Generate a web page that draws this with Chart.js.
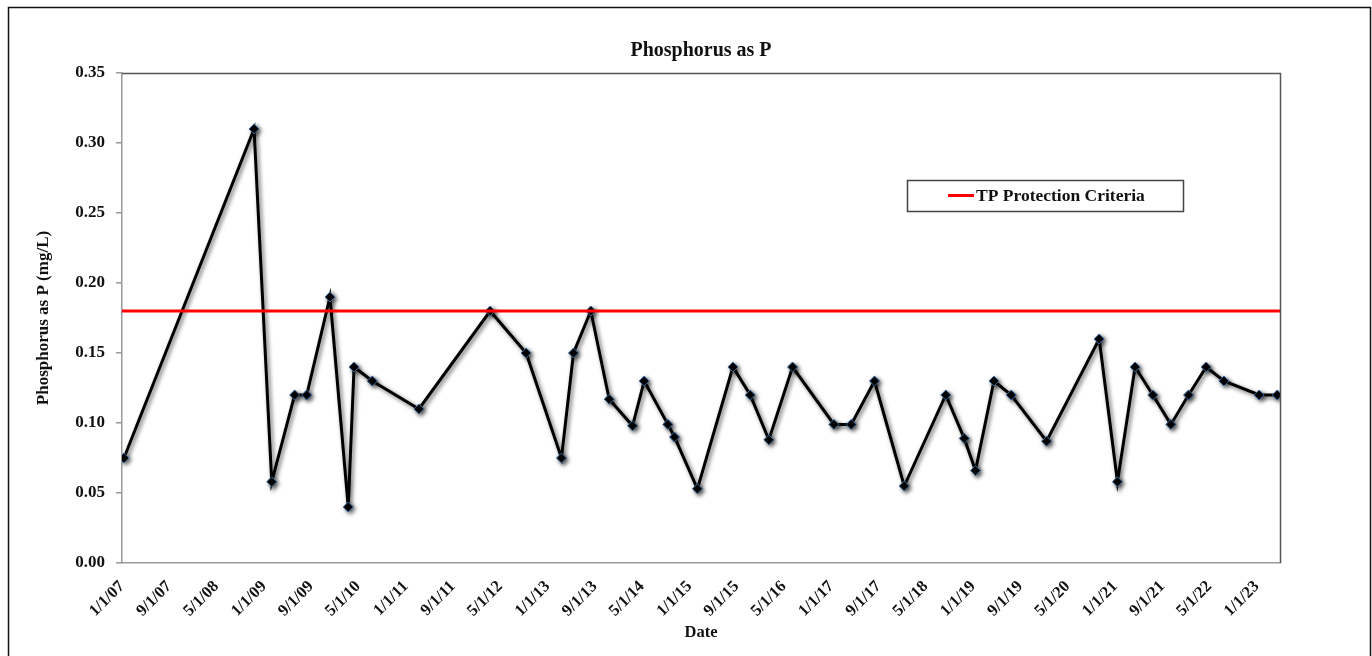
<!DOCTYPE html>
<html>
<head>
<meta charset="utf-8">
<script src="https://cdn.jsdelivr.net/npm/chart.js@4"></script>
<style>
html,body{margin:0;padding:0;background:#fff;}
canvas{display:block;}
</style>
</head>
<body>
<canvas id="c" width="1372" height="656"></canvas>
<script>
// ---- data ----
const sampleDates = ['2007-01-11','2008-11-11','2009-02-10','2009-06-08','2009-08-09','2009-12-07','2010-03-11','2010-04-10','2010-07-13','2011-03-10',
  '2012-03-11','2012-09-12','2013-03-13','2013-05-14','2013-08-11','2013-11-14','2014-03-14','2014-05-13','2014-09-12','2014-10-16',
  '2015-02-11','2015-08-13','2015-11-10','2016-02-14','2016-06-15','2017-01-14','2017-04-13','2017-08-11','2018-01-11','2018-08-13',
  '2018-11-16','2019-01-13','2019-04-18','2019-07-16','2020-01-14','2020-10-11','2021-01-13','2021-04-14','2021-07-14','2021-10-15',
  '2022-01-14','2022-04-15','2022-07-15','2023-01-13','2023-04-16'];
const phosphorus = [0.075,0.31,0.058,0.12,0.12,0.19,0.04,0.14,0.13,0.11,
  0.18,0.15,0.075,0.15,0.18,0.117,0.098,0.13,0.099,0.09,
  0.053,0.14,0.12,0.088,0.14,0.099,0.099,0.13,0.055,0.12,
  0.089,0.066,0.13,0.12,0.087,0.16,0.058,0.14,0.12,0.099,
  0.12,0.14,0.13,0.12,0.12];
const criteriaValue = 0.18;
const tickDates = ['2007-01-01','2007-09-01','2008-05-01','2009-01-01','2009-09-01','2010-05-01','2011-01-01','2011-09-01','2012-05-01',
  '2013-01-01','2013-09-01','2014-05-01','2015-01-01','2015-09-01','2016-05-01','2017-01-01','2017-09-01','2018-05-01','2019-01-01',
  '2019-09-01','2020-05-01','2021-01-01','2021-09-01','2022-05-01','2023-01-01'];
const tickLabels = ['1/1/07','9/1/07','5/1/08','1/1/09','9/1/09','5/1/10','1/1/11','9/1/11','5/1/12','1/1/13','9/1/13','5/1/14','1/1/15',
  '9/1/15','5/1/16','1/1/17','9/1/17','5/1/18','1/1/19','9/1/19','5/1/20','1/1/21','9/1/21','5/1/22','1/1/23'];
const axisStart = '2007-01-01';
const axisEnd = '2023-04-30';

const toDays = s => Date.parse(s + 'T00:00:00Z') / 86400000;
const xMin = toDays(axisStart), xMax = toDays(axisEnd);
const serif = "'Liberation Serif','Times New Roman',serif";

const framePlugin = {
  id: 'frame',
  beforeDraw(chart) {
    const ctx = chart.ctx;
    ctx.save();
    ctx.fillStyle = '#fff';
    ctx.fillRect(0, 0, chart.width, chart.height);
    ctx.strokeStyle = '#111';
    ctx.lineWidth = 1.5;
    ctx.beginPath();
    ctx.moveTo(8.5, 660); ctx.lineTo(8.5, 7.5); ctx.lineTo(1370.5, 7.5); ctx.lineTo(1370.5, 660);
    ctx.stroke();
    ctx.restore();
  },
  afterDraw(chart) {
    const ctx = chart.ctx, a = chart.chartArea;
    ctx.save();
    ctx.strokeStyle = '#555';
    ctx.lineWidth = 1.5;
    ctx.beginPath();
    ctx.moveTo(a.left, a.top + 0.5); ctx.lineTo(a.right + 0.5, a.top + 0.5); ctx.lineTo(a.right + 0.5, a.bottom);
    ctx.stroke();
    // legend
    const ds = chart.data.datasets[1];
    ctx.fillStyle = '#fff';
    ctx.fillRect(907.5, 180.5, 276, 31);
    ctx.strokeStyle = '#444';
    ctx.lineWidth = 1.5;
    ctx.strokeRect(907.5, 180.5, 276, 31);
    ctx.strokeStyle = ds.borderColor;
    ctx.lineWidth = 3;
    ctx.beginPath(); ctx.moveTo(948, 195.5); ctx.lineTo(974, 195.5); ctx.stroke();
    ctx.fillStyle = '#111';
    ctx.font = "bold 17.5px " + serif;
    ctx.textBaseline = 'middle';
    ctx.textAlign = 'left';
    ctx.fillText(ds.label, 976, 196);
    ctx.restore();
  }
};

const shadowPlugin = {
  id: 'shadow',
  beforeDatasetDraw(chart, args) {
    if (args.index !== 0) return;
    const ctx = chart.ctx;
    ctx.save();
    ctx.shadowColor = 'rgba(0,0,0,0.6)';
    ctx.shadowBlur = 4;
    ctx.shadowOffsetX = 2;
    ctx.shadowOffsetY = 2;
  },
  afterDatasetDraw(chart, args) {
    if (args.index !== 0) return;
    chart.ctx.restore();
  }
};

new Chart(document.getElementById('c'), {
  type: 'line',
  data: {
    datasets: [
      {
        label: 'Phosphorus as P',
        data: sampleDates.map((d, i) => ({x: toDays(d), y: phosphorus[i]})),
        borderColor: '#000',
        borderWidth: 3,
        tension: 0,
        pointStyle: 'rectRot',
        pointRadius: 5,
        pointBackgroundColor: '#000',
        pointBorderColor: '#3a6aa0',
        pointBorderWidth: 1,
        order: 1
      },
      {
        label: 'TP Protection Criteria',
        data: [{x: xMin, y: criteriaValue}, {x: xMax, y: criteriaValue}],
        borderColor: '#ff0000',
        borderWidth: 3,
        pointRadius: 0,
        order: 0
      }
    ]
  },
  options: {
    responsive: false,
    animation: false,
    events: [],
    layout: {padding: {left: 0, right: 92, top: 0, bottom: 0}},
    plugins: {
      legend: {display: false},
      tooltip: {enabled: false},
      title: {
        display: true,
        text: 'Phosphorus as P',
        fullSize: false,
        color: '#111',
        font: {family: serif, size: 20, weight: 'bold', lineHeight: 1.2},
        padding: {top: 39, bottom: 10}
      }
    },
    scales: {
      x: {
        type: 'linear',
        min: xMin,
        max: xMax,
        afterBuildTicks: s => { s.ticks = tickDates.map(d => ({value: toDays(d)})); },
        afterFit: s => { s.height = 93; },
        grid: {display: false},
        border: {display: true, color: '#999', width: 1.5},
        ticks: {
          autoSkip: false,
          minRotation: 45,
          maxRotation: 45,
          padding: 6,
          color: '#111',
          font: {family: serif, size: 16.5, weight: 'bold'},
          callback: (v, i) => tickLabels[i]
        },
        title: {
          display: true,
          text: 'Date',
          color: '#111',
          font: {family: serif, size: 16.5, weight: 'bold', lineHeight: 1.2},
          padding: {top: 0, bottom: 13}
        }
      },
      y: {
        min: 0,
        max: 0.35,
        afterFit: s => { s.width = 122; },
        grid: {drawOnChartArea: false, drawTicks: true, tickLength: 6, color: '#999', lineWidth: 1.5},
        border: {display: true, color: '#999', width: 1.5},
        ticks: {
          stepSize: 0.05,
          padding: 11,
          color: '#111',
          font: {family: serif, size: 17, weight: 'bold'},
          callback: v => v.toFixed(2)
        },
        title: {
          display: true,
          text: 'Phosphorus as P (mg/L)',
          color: '#111',
          font: {family: serif, size: 17, weight: 'bold', lineHeight: 1.2},
          padding: {top: 33, bottom: 0}
        }
      }
    }
  },
  plugins: [framePlugin, shadowPlugin]
});
</script>
</body>
</html>
